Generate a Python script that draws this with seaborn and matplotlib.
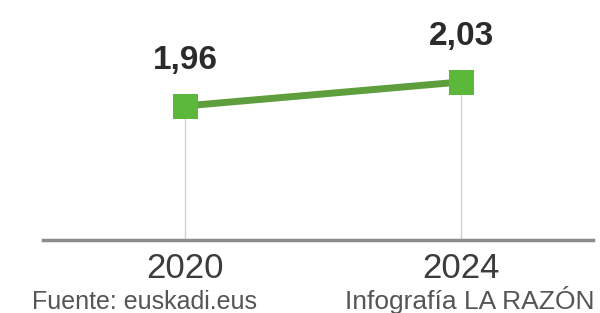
import matplotlib
matplotlib.use("Agg")
import matplotlib.pyplot as plt
import seaborn as sns

# datos
years = [2020, 2024]
values = [1.96, 2.03]
value_labels = ["1,96", "2,03"]
tick_labels = ["2020", "2024"]
source = "Fuente: euskadi.eus"
credit = "Infografía LA RAZÓN"

sns.set_theme(style="white")
plt.rcParams['font.family'] = ['Liberation Sans', 'DejaVu Sans']

fig = plt.figure(figsize=(6, 3.13), dpi=100)
ax = fig.add_axes([43 / 600, 73 / 313, 550 / 600, 240 / 313])

ymin, ymax = 1.569, 2.269
ax.set_xlim(2017.942, 2025.913)
ax.set_ylim(ymin, ymax)

# lineas verticales grises
ax.vlines(years, ymin, values, color='#d2d2d2', lw=1, zorder=1)

sns.lineplot(x=years, y=values, ax=ax, color='#5e9e3d', lw=5,
             marker='s', markersize=18, markerfacecolor='#5cb83a',
             markeredgewidth=0, zorder=3)

for x, y, lab in zip(years, values, value_labels):
    ax.annotate(lab, (x, y), xytext=(0, 33), textcoords='offset points',
                ha='center', va='center', fontsize=24, fontweight='bold',
                color='#2b2b2b')

for side in ['top', 'right', 'left']:
    ax.spines[side].set_visible(False)
ax.spines['bottom'].set_color('#8c8c8c')
ax.spines['bottom'].set_linewidth(2.5)

ax.set_xticks(years)
ax.set_xticklabels(tick_labels, fontsize=25, color='#3c3c3c')
ax.set_yticks([])
ax.tick_params(axis='x', length=0, pad=9)

fig.text(32 / 600, 4 / 313, source, fontsize=18, color='#555555', va='baseline')
fig.text(345 / 600, 4 / 313, credit, fontsize=19, color='#555555', va='baseline')

fig.savefig("out.png", dpi=100, facecolor='white')
